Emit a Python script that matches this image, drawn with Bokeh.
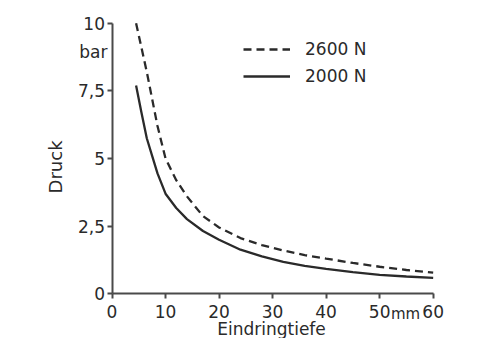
import math
from bokeh.plotting import figure
from bokeh.models import Range1d, FixedTicker, Label, Legend, LegendItem, LinearAxis
from bokeh.embed import file_html
from bokeh.resources import INLINE

# ---- data ----
depth_2600 = [4.5, 5.5, 6.5, 7.5, 8.5, 10, 12, 14, 17, 20, 24, 28, 32, 36, 40, 45, 50, 55, 60]
druck_2600 = [10.0, 9.1, 8.2, 7.2, 6.2, 5.0, 4.2, 3.6, 2.87, 2.45, 2.06, 1.8, 1.6, 1.43, 1.3, 1.14, 1.0, 0.88, 0.78]
depth_2000 = [4.5, 5.5, 6.5, 7.5, 8.5, 10, 12, 14, 17, 20, 24, 28, 32, 36, 40, 45, 50, 55, 60]
druck_2000 = [7.7, 6.7, 5.75, 5.1, 4.45, 3.7, 3.17, 2.76, 2.32, 2.0, 1.63, 1.38, 1.18, 1.03, 0.92, 0.8, 0.7, 0.64, 0.59]

x_ticks = [0, 10, 20, 30, 40, 50, 60]
y_ticks = [0, 2.5, 5, 7.5, 10]
y_tick_labels = ["0", "2,5", "5", "7,5", "10"]
series_names = ["2600 N", "2000 N"]
x_title = "Eindringtiefe"
y_title = "Druck"
y_unit = "bar"
x_unit = "mm"

FONT = "DejaVu Sans"
FS = "17px"
INK = "#2a2a2a"
AXC = "#4a4a4a"

# the frame covers the whole canvas; axes sit at fixed data locations
p = figure(width=493, height=338, output_backend="svg", toolbar_location=None,
           x_range=Range1d(-20.83, 71.27), y_range=Range1d(-1.652, 10.84),
           x_axis_location=None, y_axis_location=None, min_border=0)
p.outline_line_color = None
p.grid.visible = False
p.background_fill_color = "white"
p.border_fill_color = "white"

r1 = p.line(depth_2600, druck_2600, line_color=INK, line_width=2.3, line_dash="8 5")
r2 = p.line(depth_2000, druck_2000, line_color=INK, line_width=2.3)

def style_axis(ax):
    ax.minor_tick_line_color = None
    ax.major_tick_out = 5
    ax.major_tick_in = 0
    ax.axis_line_color = AXC
    ax.axis_line_width = 2
    ax.major_tick_line_color = AXC
    ax.major_tick_line_width = 2
    ax.major_label_text_font = FONT
    ax.major_label_text_font_size = FS
    ax.major_label_text_color = INK

xa = LinearAxis(fixed_location=0, bounds=(x_ticks[0], x_ticks[-1]),
                ticker=FixedTicker(ticks=x_ticks))
style_axis(xa)
xa.major_label_standoff = 6
p.add_layout(xa, "below")

ya = LinearAxis(fixed_location=0, bounds=(y_ticks[0], y_ticks[-1]),
                ticker=FixedTicker(ticks=y_ticks))
style_axis(ya)
ya.major_label_standoff = 2
ya.major_label_overrides = {t: s for t, s in zip(y_ticks, y_tick_labels)}
p.add_layout(ya, "left")

def txt(x, y, s, align="center", baseline="middle", angle=0.0, size=FS):
    p.add_layout(Label(x=x, y=y, text=s, text_align=align, text_baseline=baseline,
                       angle=angle, text_font=FONT, text_font_size=size,
                       text_color=INK))

txt(-0.84, 8.93, y_unit, align="right")
txt(54.85, -0.41, x_unit, baseline="top", size="15px")
txt(29.8, -1.29, x_title, baseline="alphabetic")
txt(-10.55, 4.69, y_title, angle=math.pi / 2, size="18px")

legend = Legend(items=[LegendItem(label=series_names[0], renderers=[r1]),
                       LegendItem(label=series_names[1], renderers=[r2])],
                location=(243, 252), padding=0, margin=0, spacing=7,
                glyph_width=47, glyph_height=20, label_standoff=15,
                label_text_font=FONT, label_text_font_size=FS,
                label_text_color=INK, border_line_alpha=0,
                background_fill_alpha=0)
p.add_layout(legend, "center")

open("out.html", "w").write(file_html(p, INLINE))
